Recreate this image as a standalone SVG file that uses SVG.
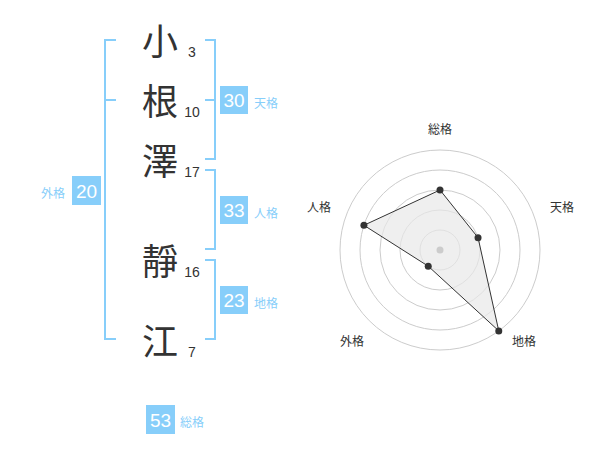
<svg xmlns="http://www.w3.org/2000/svg" width="600" height="470" viewBox="0 0 600 470">
<style>
.ch{font-family:"Noto Sans CJK JP","Noto Sans CJK SC",sans-serif;font-size:36px;fill:#333;text-anchor:middle}
.st{font-family:"Liberation Sans",Arial,sans-serif;font-size:14px;fill:#333;text-anchor:middle}
.br{fill:none;stroke:#87cefa;stroke-width:2}
.box{fill:#87cefa}
.bn{font-family:"Liberation Sans",Arial,sans-serif;font-size:19px;fill:#fff;text-anchor:middle}
.bl{font-family:"Noto Sans CJK JP","Noto Sans CJK SC",sans-serif;font-size:12px;fill:#87cefa}
.rl{font-family:"Noto Sans CJK JP","Noto Sans CJK SC",sans-serif;font-size:12px;fill:#333;text-anchor:middle}
.grid{fill:none;stroke:#ccc;stroke-width:1}
.pt{fill:#333}
</style>
<rect width="600" height="470" fill="#fff"/>
<g id="connectors">
<path class="br" d="M116,40 H105 V339 H116 M105,100 H116"/>
<path class="br" d="M205,40 H215 V159 H205 M205,100 H215"/>
<path class="br" d="M205,170 H215 V249 H205"/>
<path class="br" d="M205,260 H215 V339 H205"/>
</g>
<g id="char-1"><text class="ch" x="160" y="55">小</text><text class="st" x="192" y="57">3</text></g>
<g id="char-2"><text class="ch" x="160" y="115">根</text><text class="st" x="192" y="117">10</text></g>
<g id="char-3"><text class="ch" x="160" y="175">澤</text><text class="st" x="192" y="177">17</text></g>
<g id="char-4"><text class="ch" x="160" y="275">靜</text><text class="st" x="192" y="277">16</text></g>
<g id="char-5"><text class="ch" x="160" y="355">江</text><text class="st" x="192" y="357">7</text></g>
<g id="tenkaku"><rect class="box" x="220" y="86" width="28" height="28"/><text class="bn" x="234" y="107">30</text><text class="bl" x="254" y="108">天格</text></g>
<g id="jinkaku"><rect class="box" x="220" y="196" width="28" height="28"/><text class="bn" x="234" y="217">33</text><text class="bl" x="254" y="218">人格</text></g>
<g id="chikaku"><rect class="box" x="220" y="286" width="28" height="28"/><text class="bn" x="234" y="307">23</text><text class="bl" x="254" y="308">地格</text></g>
<g id="gaikaku"><rect class="box" x="72" y="176" width="29" height="29"/><text class="bn" x="86.5" y="197.5">20</text><text class="bl" x="41" y="198">外格</text></g>
<g id="soukaku"><rect class="box" x="146" y="405" width="29" height="29"/><text class="bn" x="160.5" y="426.5">53</text><text class="bl" x="180" y="427">総格</text></g>
<g id="radar">
<circle class="grid" cx="440" cy="250" r="20"/>
<circle class="grid" cx="440" cy="250" r="40"/>
<circle class="grid" cx="440" cy="250" r="60"/>
<circle class="grid" cx="440" cy="250" r="80"/>
<circle class="grid" cx="440" cy="250" r="100"/>
<polygon points="440,190 478.04,237.64 498.78,330.9 428.24,266.18 363.92,225.28" fill="#e8e8e8" fill-opacity="0.7" stroke="#333" stroke-width="1"/>
<circle cx="440" cy="250" r="3.5" fill="#ccc"/>
<circle class="pt" cx="440" cy="190" r="3.5"/>
<circle class="pt" cx="478.04" cy="237.64" r="3.5"/>
<circle class="pt" cx="498.78" cy="330.9" r="3.5"/>
<circle class="pt" cx="428.24" cy="266.18" r="3.5"/>
<circle class="pt" cx="363.92" cy="225.28" r="3.5"/>
<text class="rl" x="440" y="134">総格</text>
<text class="rl" x="562" y="212">天格</text>
<text class="rl" x="319" y="212">人格</text>
<text class="rl" x="352" y="346">外格</text>
<text class="rl" x="524" y="346">地格</text>
</g>
</svg>
